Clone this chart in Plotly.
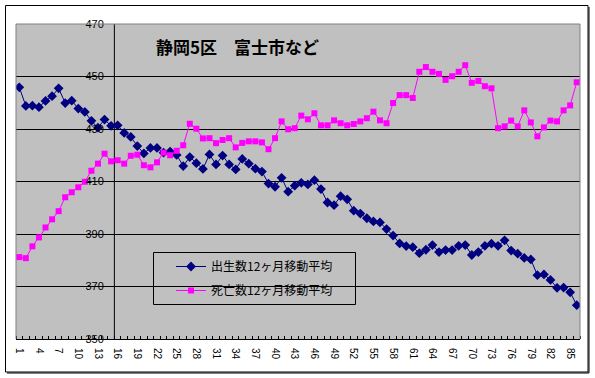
import plotly.graph_objects as go

# ---- data ----
months = list(range(1, 87))
births = [445.9, 438.8, 438.9, 438.3, 440.7, 442.5, 445.5, 439.9, 440.8, 437.8,
          436.5, 433.1, 430.5, 433.6, 431.2, 431.4, 428.5, 427.0, 423.5, 420.7,
          422.8, 422.8, 421.0, 421.4, 420.1, 415.9, 419.3, 417.0, 414.8, 420.3,
          416.5, 419.9, 416.5, 414.6, 418.6, 416.8, 414.9, 413.8, 409.2, 408.0,
          411.4, 406.1, 408.4, 409.5, 408.9, 410.5, 407.1, 402.0, 401.0, 404.4,
          403.2, 398.9, 397.8, 396.0, 394.8, 394.4, 391.9, 389.4, 386.4, 385.4,
          385.0, 382.7, 384.0, 385.8, 383.1, 383.9, 383.9, 385.5, 385.8, 382.0,
          383.1, 385.5, 386.3, 385.5, 387.6, 383.7, 382.5, 380.9, 380.3, 374.3,
          374.6, 372.5, 369.5, 369.6, 367.8, 362.9]
deaths = [381.2, 380.8, 385.3, 388.7, 392.5, 395.6, 398.7, 404.0, 405.9, 407.8,
          409.9, 414.1, 416.8, 420.6, 417.7, 418.1, 416.8, 419.8, 420.2, 416.2,
          415.4, 417.3, 421.0, 420.0, 421.7, 423.8, 432.0, 430.1, 426.4, 426.5,
          424.6, 425.8, 426.5, 423.0, 424.7, 425.3, 425.3, 424.9, 422.3, 426.5,
          432.9, 429.9, 430.3, 435.1, 433.7, 436.0, 431.4, 431.4, 433.3, 432.2,
          431.4, 431.9, 432.9, 434.1, 436.6, 433.3, 432.2, 439.9, 442.9, 442.9,
          441.8, 451.8, 453.6, 451.8, 451.0, 448.7, 450.1, 451.8, 454.3, 447.6,
          448.3, 446.3, 445.5, 430.3, 431.0, 433.2, 431.0, 437.1, 432.5, 427.2,
          430.6, 433.2, 432.9, 437.1, 439.0, 447.8]
x_tick_vals = list(range(1, 87, 3))
x_tick_text = [str(v) for v in x_tick_vals]
y_tick_vals = [350, 370, 390, 410, 430, 450, 470]
series_names = ["出生数12ヶ月移動平均", "死亡数12ヶ月移動平均"]
title_text = "静岡5区　富士市など"

# ---- layout geometry (pixels) ----
W, H = 595, 378
ML, MR, MT, MB = 16, 15, 24, 39
PW, PH = W - ML - MR, H - MT - MB


def px(x):
    return (x - ML) / PW


def py(y):
    return (H - MB - y) / PH


fig = go.Figure()
fig.add_trace(go.Scatter(
    x=months, y=births, name=series_names[0], mode="lines+markers",
    line=dict(color="#000080", width=1),
    marker=dict(symbol="diamond", size=7.5, color="#000080"),
    legendgroup="a"))
fig.add_trace(go.Scatter(
    x=months, y=deaths, name=series_names[1], mode="lines+markers",
    line=dict(color="#FF00FF", width=1),
    marker=dict(symbol="square", size=6, color="#FF00FF"),
    legendgroup="b"))

shapes = [
    # outer chart border with slight shadow
    dict(type="rect", xref="paper", yref="paper", x0=px(5.5), x1=px(588), y0=py(372), y1=py(5.5),
         line=dict(color="black", width=1), fillcolor="rgba(0,0,0,0)", layer="above"),
    dict(type="line", xref="paper", yref="paper", x0=px(589), x1=px(589), y0=py(373), y1=py(7),
         line=dict(color="black", width=1), layer="above"),
    dict(type="line", xref="paper", yref="paper", x0=px(7), x1=px(589), y0=py(373), y1=py(373),
         line=dict(color="black", width=1), layer="above"),
    # plot area border (gray) left/top/right
    dict(type="line", xref="paper", yref="paper", x0=0, x1=0, y0=0, y1=1,
         line=dict(color="#808080", width=1), layer="above"),
    dict(type="line", xref="paper", yref="paper", x0=0, x1=1, y0=1, y1=1,
         line=dict(color="#808080", width=1), layer="above"),
    dict(type="line", xref="paper", yref="paper", x0=1, x1=1, y0=0, y1=1,
         line=dict(color="#808080", width=1), layer="above"),
    # value axis line crossing between categories 15 and 16
    dict(type="line", xref="x", yref="paper", x0=15.5, x1=15.5, y0=0, y1=1,
         line=dict(color="black", width=1), layer="below"),
    # legend box
    dict(type="rect", xref="paper", yref="paper", x0=px(153.5), x1=px(355.5), y0=py(304.5), y1=py(252.5),
         line=dict(color="black", width=1), fillcolor="rgba(0,0,0,0)", layer="above"),
]

fig.update_layout(
    width=W, height=H,
    margin=dict(l=ML, r=MR, t=MT, b=MB, pad=0),
    paper_bgcolor="white",
    plot_bgcolor="#C0C0C0",
    showlegend=True,
    legend=dict(x=px(171), y=py(252), xanchor="left", yanchor="top",
                bgcolor="rgba(0,0,0,0)", borderwidth=0,
                font=dict(family="Noto Sans CJK JP", size=12, color="black"),
                tracegroupgap=5, traceorder="grouped"),
    shapes=shapes,
    annotations=[dict(text="<b>" + title_text + "</b>", xref="paper", yref="paper",
                      x=px(154), y=py(47), xanchor="left", yanchor="middle", showarrow=False,
                      font=dict(family="Noto Sans CJK JP", size=17, color="black"))],
    xaxis=dict(
        range=[0.5, 86.5], tickmode="array", tickvals=x_tick_vals, ticktext=x_tick_text,
        tickangle=90, ticks="outside", ticklen=6, tickcolor="rgba(0,0,0,0)",
        showline=True, linecolor="black", linewidth=1, showgrid=False, zeroline=False,
        tickfont=dict(family="Liberation Sans, Arial", size=10, color="black"),
        minor=dict(tickmode="array", tickvals=[i + 0.5 for i in range(0, 87)],
                   ticks="inside", ticklen=3, tickcolor="black", tickwidth=1, showgrid=False),
    ),
    yaxis=dict(
        range=[350, 470], tickmode="array", tickvals=y_tick_vals,
        anchor="free", position=px(114), side="left",
        showline=False,
        showgrid=True, gridcolor="black", gridwidth=1, zeroline=False,
        ticks="outside", ticklen=8, tickcolor="rgba(0,0,0,0)",
        tickfont=dict(family="Liberation Sans, Arial", size=11, color="black"),
    ),
)

fig.write_html("out.html", config={"displayModeBar": False},
               post_script="document.body.style.margin='0';")
